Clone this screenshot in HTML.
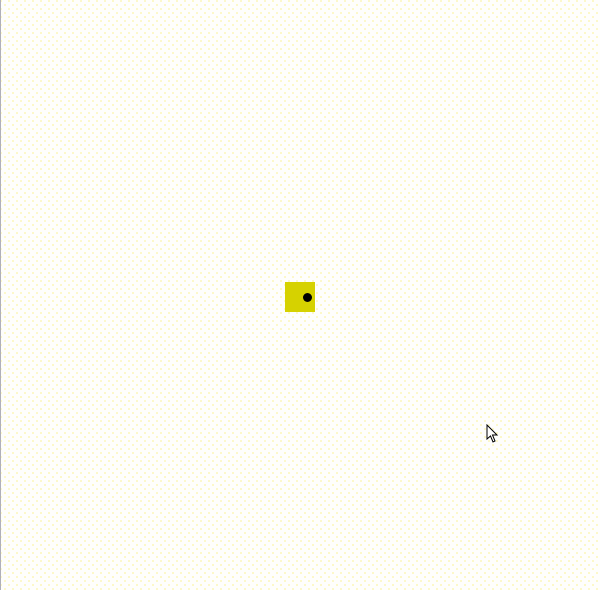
<!DOCTYPE html>
<html><head><style>
html,body{margin:0;padding:0}
body{width:600px;height:590px;overflow:hidden;position:relative;font-family:"Liberation Sans",sans-serif;
background-color:#fefefc;
background-image:radial-gradient(circle,#faf39a 0.6px,transparent 1px),radial-gradient(circle,#faf39a 0.6px,transparent 1px);
background-size:8px 8px,8px 8px;background-position:1px 1px,5px 5px;}
#edge{position:absolute;left:0;top:0;width:1px;height:590px;background:#b0b0b8}
#sq{position:absolute;left:285px;top:282px;width:30px;height:30px;background:#d6d200}
#dot{position:absolute;left:303px;top:293px;width:9px;height:9px;border-radius:50%;background:#000}
#cur{position:absolute;left:486px;top:424px}
</style></head><body>
<div id="edge"></div>
<div id="sq"></div>
<div id="dot"></div>
<svg id="cur" width="14" height="20" viewBox="0 0 14 20">
<path d="M1 1 L1 15 L4.5 12 L7 18 L9 17 L6.5 11 L11 11 Z" fill="#fff" stroke="#000" stroke-width="1"/>
</svg>
</body></html>
